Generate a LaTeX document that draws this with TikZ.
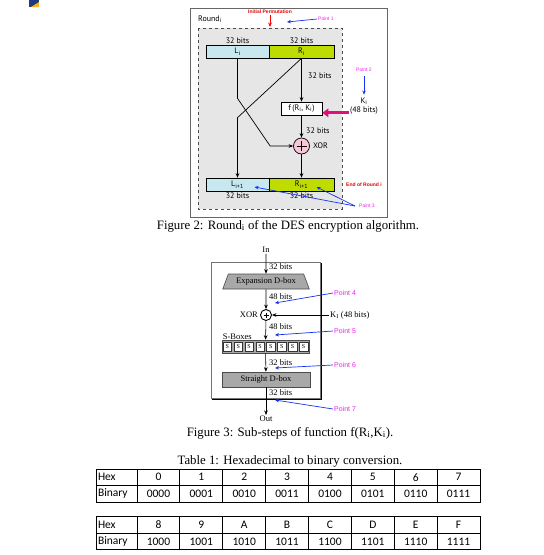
\documentclass[tikz,border=0pt]{standalone}
\usepackage{fontspec}
\setmainfont{Liberation Serif}
\newfontfamily\figsans{PT Sans}
\newfontfamily\ptfont{Liberation Sans}
\newfontfamily\tabfont{Carlito}
\usetikzlibrary{shapes.geometric,arrows.meta}

\definecolor{lblue}{HTML}{C8E8F0}
\definecolor{lgreen}{HTML}{BFDC00}
\definecolor{roundbg}{HTML}{E6E6E6}
\definecolor{xorpink}{HTML}{F7C6DA}
\definecolor{kmag}{HTML}{E0107A}
\definecolor{ptmag}{HTML}{F020F0}
\definecolor{ptblue}{HTML}{1432F0}
\definecolor{boxgray}{HTML}{A8A8A8}
\definecolor{iconblue}{HTML}{1F3A80}
\definecolor{iconyellow}{HTML}{F2B41C}

\tikzset{
  half/.style={draw, line width=.7pt, minimum height=13pt, inner sep=0pt, font=\figsans\fontsize{8}{9}\selectfont},
  lbl/.style={font=\figsans\fontsize{8}{9}\selectfont, inner sep=1pt},
  ptlbl/.style={font=\ptfont\fontsize{5}{6}\selectfont, text=ptmag, inner sep=1pt},
  ptlblb/.style={font=\ptfont\fontsize{7}{8}\selectfont, text=ptmag, inner sep=1pt},
  redlbl/.style={font=\ptfont\bfseries\fontsize{5}{6}\selectfont, text=red!90!black, inner sep=1pt},
  ptarrow/.style={-{Stealth[length=4pt,width=3.5pt]}, ptblue, line width=.7pt},
  flow/.style={->, line width=.7pt},
  sflow/.style={->, line width=.55pt},
  sm/.style={font=\fontsize{8.5}{9}\selectfont, inner sep=1pt},
  dbox/.style={draw=black!70, line width=.6pt, fill=boxgray, minimum height=15pt, inner sep=0pt, font=\fontsize{8.5}{9}\selectfont},
  sbx/.style={draw=black!80, fill=white, minimum width=8.5pt, minimum height=9pt, inner sep=0pt, font=\fontsize{6}{6}\selectfont},
  cell/.style={draw, line width=1pt, minimum width=42.875pt, minimum height=16.5pt, inner sep=0pt, font=\tabfont\fontsize{11.5}{12}\selectfont},
  hcell/.style={cell, minimum width=41pt, text width=37pt, inner sep=2pt, align=left},
  plus/.style={path picture={\draw[line width=.7pt]
      ([yshift=-3pt]path picture bounding box.north) -- ([yshift=3pt]path picture bounding box.south)
      ([xshift=3pt]path picture bounding box.west) -- ([xshift=-3pt]path picture bounding box.east);}}
}

\begin{document}
\begin{tikzpicture}[x=1pt,y=-1pt,>={Stealth[length=4.5pt,width=3.6pt]}]
  \useasboundingbox (0,0) rectangle (544,555);
  \fill[iconblue] (29,0) rectangle (39,7);
  \fill[iconyellow] (31,7) -- (39,2) -- (39,7) -- cycle;

  % Round i
  \draw[black!60] (190,8) rectangle (387,217);
  \draw[dashed, black!70, line width=.6pt, fill=roundbg] (198,28) rectangle (342,209);
  \node[lbl] (round) at (210,19) {Round\textsubscript{i}};
  \node[redlbl] (ip) at (270,12) {Initial Permutation};
  \coordinate (iptip) at (270,27);
  \draw[->, red, line width=.6pt] (ip) -- (iptip);
  \node[ptlbl] (p1) at (326,19) {Point 1};
  \coordinate (p1tip) at (287,22);
  \draw[ptarrow] (p1.west) -- (p1tip);

  \node[half, fill=lblue, minimum width=63pt] (Li) at (237.5,51.5) {L\textsubscript{i}};
  \node[half, fill=lgreen, minimum width=65pt] (Ri) at (301.5,51.5) {R\textsubscript{i}};
  \node[lbl, above] (bLi) at (Li.north) {32 bits};
  \node[lbl, above] (bRi) at (Ri.north) {32 bits};

  \node[draw, line width=.7pt, fill=white, minimum width=41pt, minimum height=13pt, inner sep=0pt,
        font=\figsans\fontsize{8}{9}\selectfont] (f) at (301.5,108.5) {f\,(R\textsubscript{i}, K\textsubscript{i})};
  \node[draw, line width=.7pt, circle, fill=xorpink, minimum size=16pt, inner sep=0pt, plus] (xor1) at (301.5,146) {};
  \node[lbl, anchor=west] (xorl) at ([xshift=2pt]xor1.east) {XOR};
  \node[lbl, anchor=west] (bf1) at (307,76) {32 bits};
  \node[lbl, anchor=west] (bf2) at (305,131) {32 bits};

  \node[half, fill=lblue, minimum width=63pt] (Li1) at (237.5,184.5) {L\textsubscript{i+1}};
  \node[half, fill=lgreen, minimum width=65pt] (Ri1) at (301.5,184.5) {R\textsubscript{i+1}};
  \node[lbl, below] (bLi1) at (Li1.south) {32 bits};
  \node[lbl, below] (bRi1) at (Ri1.south) {32 bits};

  \draw[flow] (Ri.south) -- (Ri.south |- f.north);
  \draw[flow] (f) -- (xor1);
  \draw[flow] (xor1) -- (Ri1);
  \draw[flow] (Li.south) -- ++(0,40) -- ([xshift=-23pt]xor1.west) -- (xor1.west);
  \draw[flow] (Ri.south) -- ([yshift=60pt]Li1.north) -- (Li1.north);

  \node[ptlbl] (p2) at (364,70) {Point 2};
  \node[lbl, align=center] (Ki) at (364,106) {K\textsubscript{i}\\(48 bits)};
  \draw[ptarrow] ([yshift=-3pt]p2.south) -- ([yshift=2pt]Ki.north);
  \coordinate (fk) at ([yshift=2.5pt]f.south east);
  \draw[kmag, line width=2.8pt, -{Triangle[length=6pt,width=8.5pt]}] (fk -| Ki.west) -- (fk);

  \node[redlbl] (eor) at (364,185) {End of Round i};
  \node[ptlbl] (p3) at (367,206) {Point 3};
  \coordinate (p3l) at ([xshift=17pt,yshift=-2.5pt]Li1.center);
  \coordinate (p3r) at ([xshift=15pt,yshift=-2.5pt]Ri1.center);
  \draw[ptarrow] ([xshift=-3pt]p3.west) -- (p3l);
  \draw[ptarrow] ([xshift=-3pt]p3.west) -- (p3r);

  \node[font=\fontsize{12.8}{14}\selectfont] (cap2) at (288,226) {Figure 2: Round\textsubscript{i} of the DES encryption algorithm.};

  % f(Ri,Ki)
  \draw[black!55, line width=.6pt] (211,262) rectangle (320,398);
  \draw[line width=1.5pt] (321.3,263) -- (321.3,399.3) -- (212,399.3);
  \node[sm] (in) at (266,250) {In};
  \node[dbox, trapezium, trapezium angle=60, trapezium stretches=true, minimum width=87pt] (exp) at (266,281.5) {Expansion D-box};
  \node[draw, line width=.9pt, circle, fill=white, minimum size=11pt, inner sep=0pt, plus] (x2) at (266,315) {};
  \node[sm, anchor=east] (xorl2) at ([xshift=-1pt]x2.west) {XOR};
  \node[sm, anchor=west] (kI) at (329,315) {K\textsubscript{I} (48 bits)};
  \node[draw=black!70, line width=.6pt, fill=boxgray, minimum width=87pt, minimum height=13pt, inner sep=0pt] (sb) at (265.5,346.5) {};
  \foreach \k in {0,...,7}
    \node[sbx] (s\k) at (227.4+10.875*\k,346.5) {S};
  \node[sm, anchor=south west] (sbl) at ([yshift=-1pt]sb.north west) {S-Boxes};
  \node[dbox, minimum width=88pt] (sd) at (266,379.5) {Straight D-box};
  \node[sm] (out) at (266,419) {Out};

  \draw[sflow] (in) -- (exp);
  \draw[sflow] (exp) -- (x2);
  \draw[sflow] (kI) -- (x2);
  \draw[sflow] (x2) -- (sb);
  \draw[sflow] (sb) -- (sd);
  \draw[sflow] (sd) -- (out);
  \node[sm, anchor=west] (l1) at (268,267) {32 bits};
  \node[sm, anchor=west] (l2) at (268,297) {48 bits};
  \node[sm, anchor=west] (l3) at (268,327) {48 bits};
  \node[sm, anchor=west] (l4) at (268,363) {32 bits};
  \node[sm, anchor=west] (l5) at (268,393) {32 bits};

  \node[ptlblb, anchor=west] (p4) at (333,293) {Point 4};
  \node[ptlblb, anchor=west] (p5) at (333,331) {Point 5};
  \node[ptlblb, anchor=west] (p6) at (333,365) {Point 6};
  \node[ptlblb, anchor=west] (p7) at (333,409) {Point 7};
  \coordinate (t4) at (275,303);
  \coordinate (t5) at (275,335);
  \coordinate (t6) at (275,368);
  \coordinate (t7) at (275,400);
  \draw[ptarrow] (p4.west) -- (t4);
  \draw[ptarrow] (p5.west) -- (t5);
  \draw[ptarrow] (p6.west) -- (t6);
  \draw[ptarrow] (p7.west) -- (t7);

  \node[font=\fontsize{12.8}{14}\selectfont] (cap3) at (290,433) {Figure 3: Sub-steps of function f(R\textsubscript{i},K\textsubscript{i}).};

  % hex table
  \node[font=\fontsize{12.8}{14}\selectfont] (cap4) at (290,461) {Table 1: Hexadecimal to binary conversion.};
  \node[hcell] (hx) at (116.5,477.25) {Hex};
  \node[hcell] (bx) at (116.5,493.75) {Binary};
  \foreach \v/\b [count=\c from 0] in {0/0000,1/0001,2/0010,3/0011,4/0100,5/0101,6/0110,7/0111} {
    \node[cell] (h\c) at (158.44+42.875*\c,477.25) {\v};
    \node[cell] (b\c) at (158.44+42.875*\c,493.75) {\b};
  }
  \node[hcell] (hy) at (116.5,525) {Hex};
  \node[hcell] (by) at (116.5,541.5) {Binary};
  \foreach \v/\b [count=\c from 0] in {8/1000,9/1001,A/1010,B/1011,C/1100,D/1101,E/1110,F/1111} {
    \node[cell] (hh\c) at (158.44+42.875*\c,525) {\v};
    \node[cell] (bb\c) at (158.44+42.875*\c,541.5) {\b};
  }
\end{tikzpicture}
\end{document}
